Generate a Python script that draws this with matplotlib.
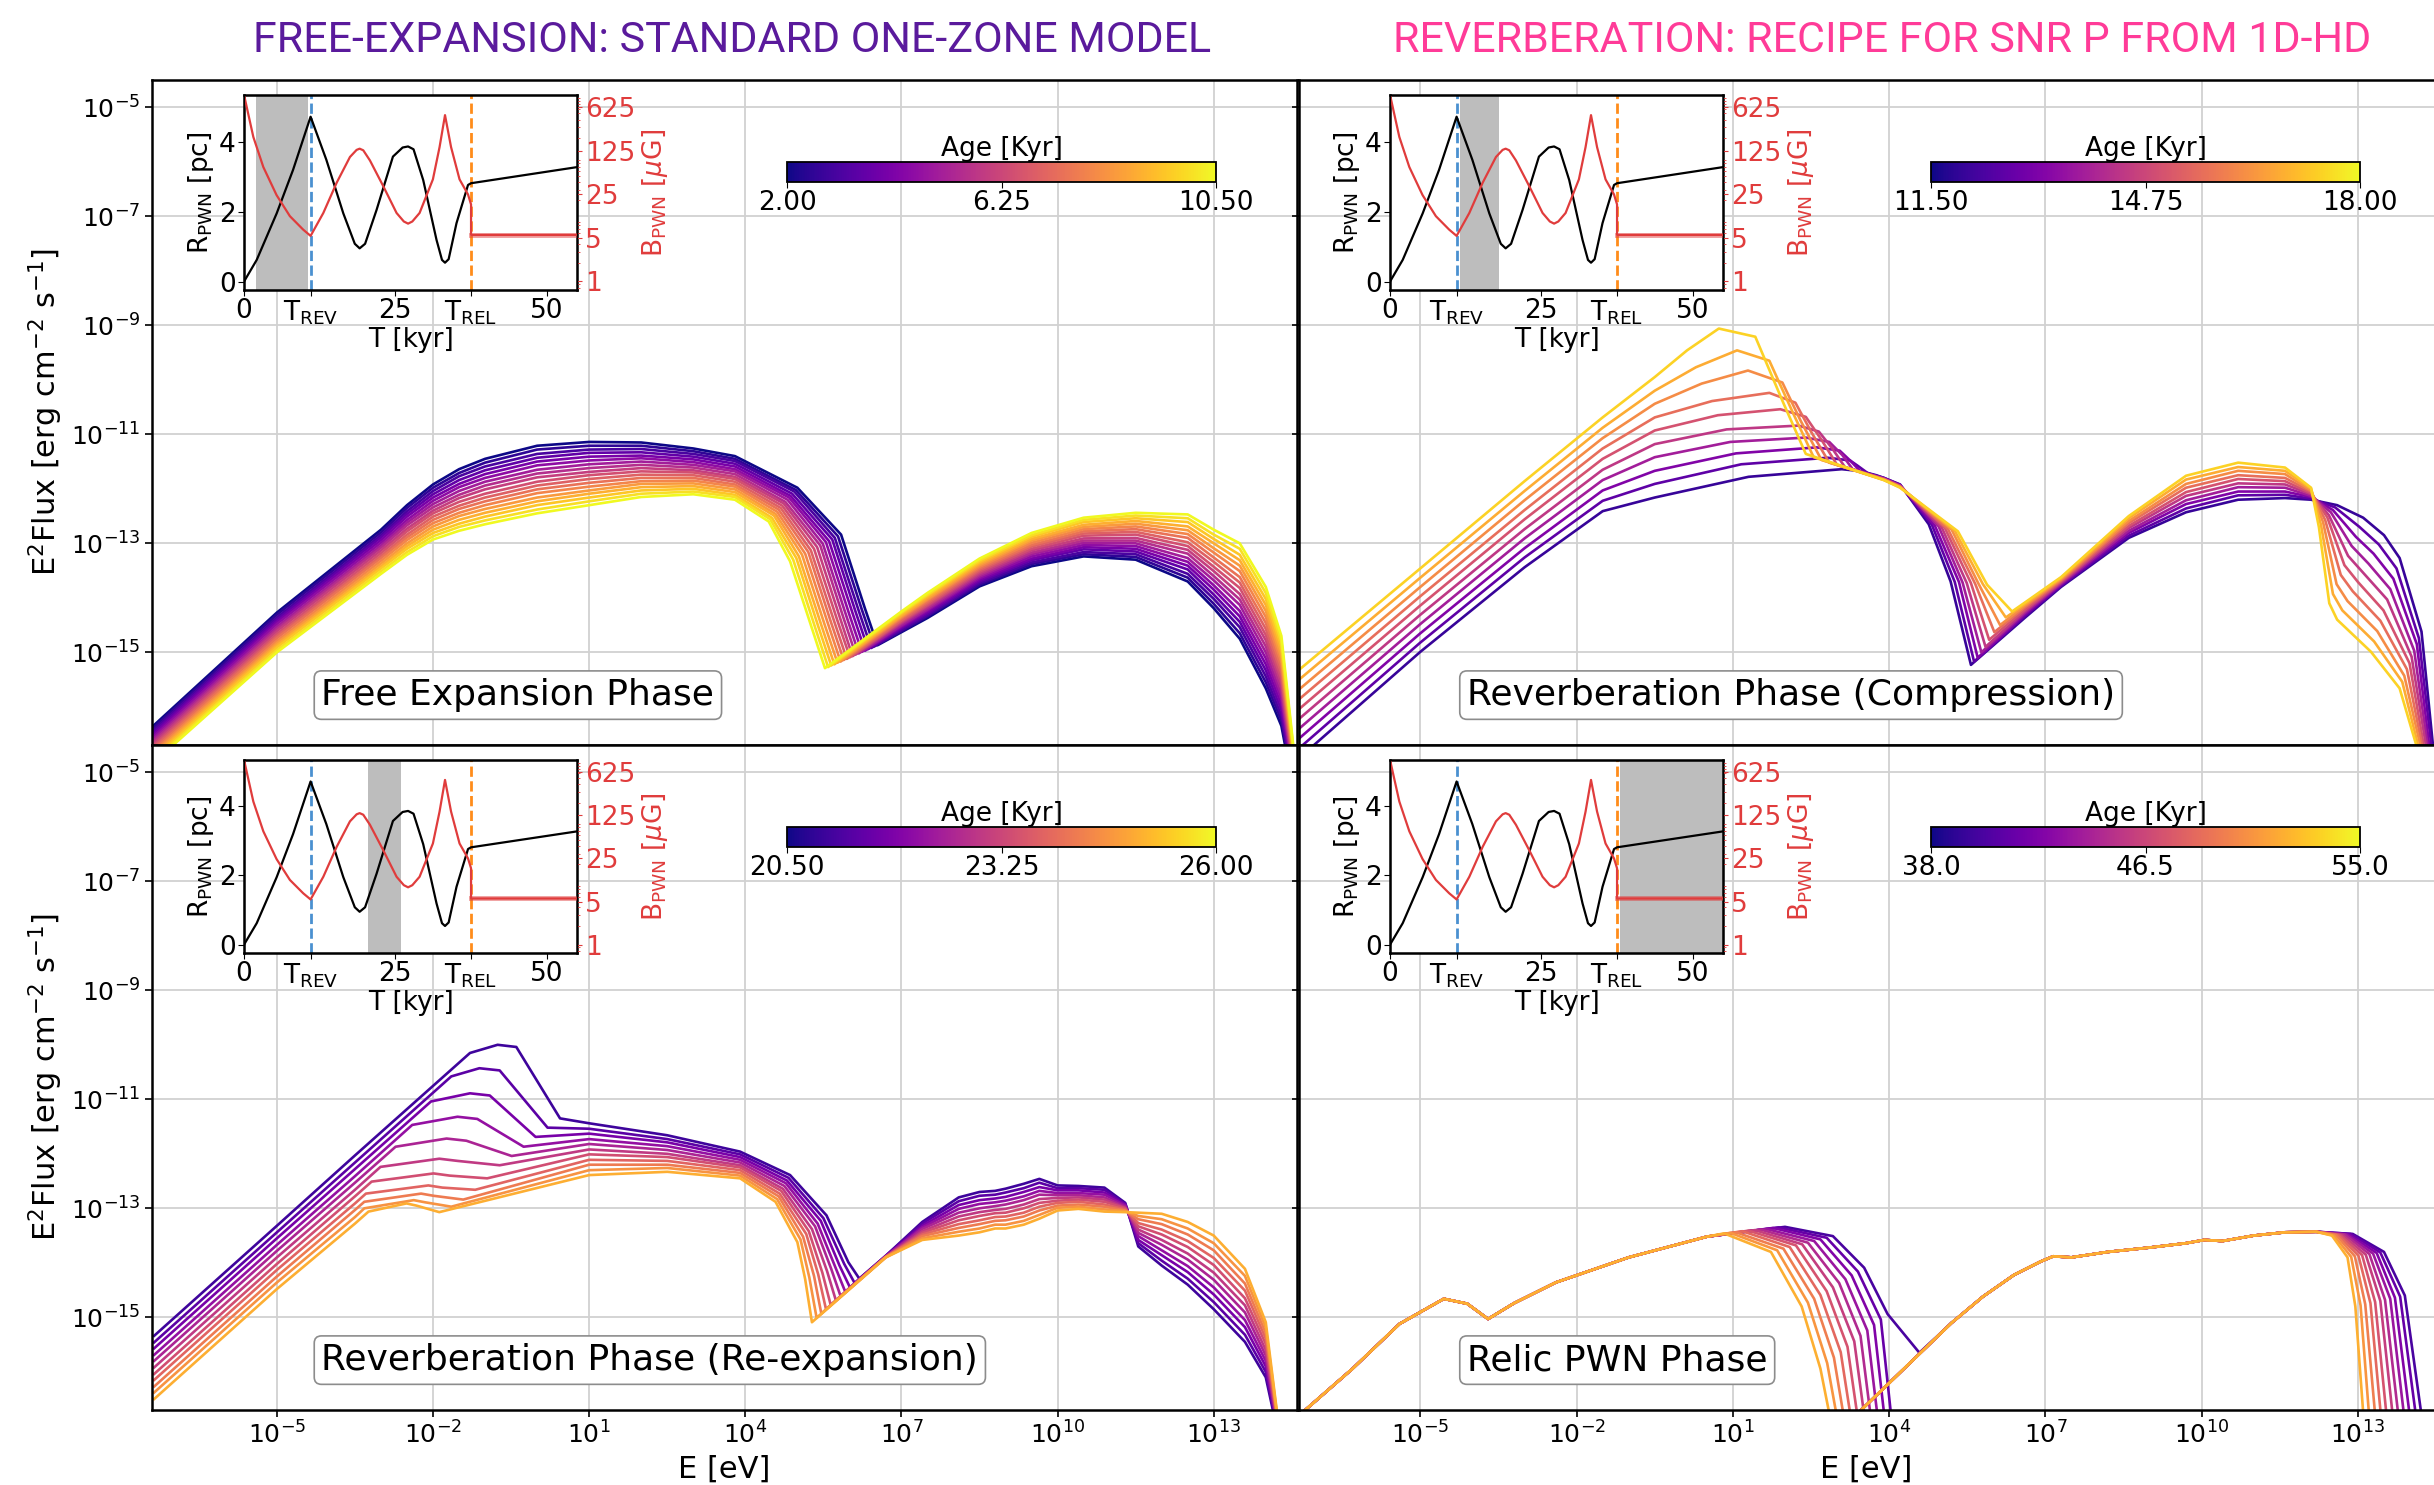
import numpy as np
import matplotlib
matplotlib.use("Agg")
import matplotlib.pyplot as plt
from matplotlib import ticker, colors, cm

# ---------------------------------------------------------------------------
# SED data: log10(E/eV) columns and log10(E^2 F) columns, one value per age.
# A column given as a single number is shared by every age in the panel.
# ---------------------------------------------------------------------------

# Free expansion phase
FE_AGE = [2.0, 2.5, 3.0, 3.5, 4.0, 4.5, 5.0, 5.5, 6.0, 6.5, 7.0, 7.5, 8.0, 8.5, 9.0, 9.5, 10.0, 10.5]
FE_LOGE = [
    -7.4, -5.0, -3.0, -2.5, -2.0, -1.5, -1.0, 0.0, 1.0, 2.0, 3.0, 3.8,
    [5.00, 4.97, 4.94, 4.90, 4.87, 4.84, 4.81, 4.77, 4.74, 4.71, 4.68, 4.64, 4.61, 4.58, 4.55, 4.51, 4.48, 4.45],
    [5.84, 5.78, 5.72, 5.67, 5.61, 5.55, 5.49, 5.44, 5.38, 5.32, 5.26, 5.21, 5.15, 5.09, 5.03, 4.98, 4.92, 4.86],
    [6.30, 6.24, 6.18, 6.12, 6.06, 6.00, 5.94, 5.88, 5.82, 5.76, 5.70, 5.64, 5.58, 5.52, 5.46, 5.40, 5.34, 5.28],
    [6.54, 6.48, 6.42, 6.36, 6.30, 6.24, 6.18, 6.12, 6.06, 6.01, 5.95, 5.89, 5.83, 5.77, 5.71, 5.65, 5.59, 5.53],
    7.0, 7.5, 8.5, 9.5, 10.5, 11.5, 12.5, 13.0, 13.5, 14.0, 14.3, 14.55,
]
FE_LOGF = [
    [-16.37, -16.41, -16.45, -16.49, -16.53, -16.57, -16.61, -16.65, -16.69, -16.73, -16.77, -16.81, -16.85, -16.89, -16.93, -16.97, -17.01, -17.05],
    [-14.27, -14.31, -14.36, -14.40, -14.44, -14.48, -14.53, -14.57, -14.61, -14.66, -14.70, -14.74, -14.79, -14.83, -14.87, -14.91, -14.96, -15.00],
    [-12.75, -12.80, -12.85, -12.89, -12.94, -12.99, -13.04, -13.08, -13.13, -13.18, -13.23, -13.27, -13.32, -13.37, -13.42, -13.46, -13.51, -13.56],
    [-12.30, -12.35, -12.41, -12.46, -12.51, -12.57, -12.62, -12.67, -12.73, -12.78, -12.84, -12.89, -12.94, -13.00, -13.05, -13.10, -13.16, -13.21],
    [-11.92, -11.98, -12.04, -12.10, -12.16, -12.22, -12.28, -12.34, -12.40, -12.45, -12.51, -12.57, -12.63, -12.69, -12.75, -12.81, -12.87, -12.93],
    [-11.64, -11.71, -11.77, -11.84, -11.91, -11.97, -12.04, -12.11, -12.17, -12.24, -12.31, -12.37, -12.44, -12.50, -12.57, -12.64, -12.70, -12.77],
    [-11.45, -11.52, -11.59, -11.66, -11.73, -11.80, -11.87, -11.94, -12.01, -12.09, -12.16, -12.23, -12.30, -12.37, -12.44, -12.51, -12.58, -12.65],
    [-11.21, -11.28, -11.36, -11.43, -11.50, -11.57, -11.65, -11.72, -11.79, -11.87, -11.94, -12.01, -12.08, -12.16, -12.23, -12.30, -12.38, -12.45],
    [-11.14, -11.21, -11.28, -11.34, -11.41, -11.48, -11.55, -11.62, -11.69, -11.75, -11.82, -11.89, -11.96, -12.03, -12.09, -12.16, -12.23, -12.30],
    [-11.15, -11.21, -11.27, -11.33, -11.39, -11.44, -11.50, -11.56, -11.62, -11.68, -11.74, -11.80, -11.86, -11.91, -11.97, -12.03, -12.09, -12.15],
    [-11.26, -11.31, -11.36, -11.41, -11.46, -11.51, -11.56, -11.61, -11.66, -11.70, -11.75, -11.80, -11.85, -11.90, -11.95, -12.00, -12.05, -12.10],
    [-11.40, -11.45, -11.49, -11.54, -11.59, -11.64, -11.68, -11.73, -11.78, -11.82, -11.87, -11.92, -11.96, -12.01, -12.06, -12.11, -12.15, -12.20],
    [-11.98, -12.02, -12.05, -12.09, -12.13, -12.16, -12.20, -12.24, -12.27, -12.31, -12.35, -12.38, -12.42, -12.46, -12.49, -12.53, -12.56, -12.60],
    [-12.84, -12.87, -12.90, -12.93, -12.96, -12.98, -13.01, -13.04, -13.07, -13.10, -13.13, -13.16, -13.19, -13.21, -13.24, -13.27, -13.30, -13.33],
    [-14.20, -14.22, -14.24, -14.26, -14.28, -14.31, -14.33, -14.35, -14.37, -14.39, -14.41, -14.43, -14.45, -14.48, -14.50, -14.52, -14.54, -14.56],
    [-14.87, -14.89, -14.92, -14.94, -14.97, -14.99, -15.02, -15.04, -15.07, -15.09, -15.12, -15.14, -15.17, -15.19, -15.22, -15.24, -15.27, -15.29],
    [-14.63, -14.61, -14.59, -14.56, -14.54, -14.52, -14.50, -14.47, -14.45, -14.43, -14.41, -14.38, -14.36, -14.34, -14.32, -14.29, -14.27, -14.25],
    [-14.37, -14.34, -14.32, -14.29, -14.26, -14.23, -14.21, -14.18, -14.15, -14.13, -14.10, -14.07, -14.04, -14.02, -13.99, -13.96, -13.94, -13.91],
    [-13.79, -13.76, -13.73, -13.70, -13.67, -13.64, -13.61, -13.58, -13.55, -13.52, -13.49, -13.46, -13.43, -13.40, -13.37, -13.34, -13.31, -13.28],
    [-13.42, -13.38, -13.35, -13.31, -13.28, -13.24, -13.20, -13.17, -13.13, -13.10, -13.06, -13.03, -12.99, -12.95, -12.92, -12.88, -12.85, -12.81],
    [-13.24, -13.20, -13.16, -13.11, -13.07, -13.03, -12.99, -12.95, -12.91, -12.86, -12.82, -12.78, -12.74, -12.70, -12.66, -12.61, -12.57, -12.53],
    [-13.30, -13.25, -13.20, -13.15, -13.10, -13.05, -13.00, -12.95, -12.90, -12.84, -12.79, -12.74, -12.69, -12.64, -12.59, -12.54, -12.49, -12.44],
    [-13.70, -13.63, -13.56, -13.48, -13.41, -13.34, -13.27, -13.19, -13.12, -13.05, -12.98, -12.90, -12.83, -12.76, -12.69, -12.61, -12.54, -12.47],
    [-14.19, -14.11, -14.02, -13.94, -13.85, -13.77, -13.68, -13.60, -13.51, -13.43, -13.34, -13.26, -13.17, -13.09, -13.00, -12.92, -12.84, -12.75],
    [-14.75, -14.65, -14.54, -14.44, -14.34, -14.24, -14.13, -14.03, -13.93, -13.82, -13.72, -13.62, -13.51, -13.41, -13.31, -13.21, -13.10, -13.00],
    [-15.66, -15.55, -15.44, -15.33, -15.22, -15.11, -15.00, -14.89, -14.78, -14.68, -14.57, -14.46, -14.35, -14.24, -14.13, -14.02, -13.91, -13.80],
    [-16.35, -16.25, -16.16, -16.06, -15.96, -15.86, -15.77, -15.67, -15.57, -15.48, -15.38, -15.28, -15.18, -15.09, -14.99, -14.89, -14.80, -14.70],
    [-17.60, -17.56, -17.52, -17.48, -17.44, -17.39, -17.35, -17.31, -17.27, -17.23, -17.19, -17.15, -17.11, -17.06, -17.02, -16.98, -16.94, -16.90],
]

# Reverberation, compression
CO_AGE = [12.0, 12.6, 13.2, 13.8, 14.4, 15.0, 15.6, 16.2, 16.8, 17.4]
CO_LOGE = [
    -7.34, -5.0, -3.0, -1.5, -0.5,
    [1.30, 1.16, 1.06, 0.95, 0.88, 0.71, 0.60, 0.40, 0.29, 0.12],
    [3.09, 2.82, 2.61, 2.40, 2.26, 1.91, 1.70, 1.29, 1.08, 0.73],
    [3.40, 3.25, 3.05, 2.85, 2.65, 2.40, 2.20, 1.95, 1.70, 1.43],
    [3.55, 3.40, 3.25, 3.10, 2.90, 2.70, 2.50, 2.30, 2.15, 1.98],
    [3.75, 3.60, 3.45, 3.30, 3.15, 3.00, 2.85, 2.70, 2.55, 2.40],
    3.9, 4.21,
    [4.76, 4.82, 4.88, 4.95, 5.01, 5.07, 5.13, 5.20, 5.26, 5.32],
    [5.18, 5.26, 5.34, 5.41, 5.49, 5.57, 5.65, 5.72, 5.80, 5.88],
    [5.57, 5.63, 5.70, 5.77, 5.85, 5.92, 6.02, 6.13, 6.24, 6.36],
    6.6, 7.3, 8.6, 9.7, 10.7, 11.6, 12.1,
    [12.60, 12.56, 12.52, 12.48, 12.44, 12.41, 12.37, 12.33, 12.29, 12.25],
    [13.10, 13.03, 12.96, 12.88, 12.81, 12.74, 12.67, 12.59, 12.52, 12.45],
    [13.50, 13.40, 13.30, 13.20, 13.10, 13.00, 12.90, 12.80, 12.70, 12.60],
    [13.80, 13.74, 13.68, 13.62, 13.56, 13.49, 13.43, 13.37, 13.31, 13.25],
    [14.22, 14.17, 14.13, 14.08, 14.03, 13.99, 13.94, 13.89, 13.85, 13.80],
    [14.45, 14.42, 14.38, 14.35, 14.32, 14.28, 14.25, 14.22, 14.18, 14.15],
]
CO_LOGF = [
    [-16.95, -16.77, -16.59, -16.41, -16.23, -16.05, -15.87, -15.69, -15.51, -15.33],
    [-14.99, -14.82, -14.65, -14.48, -14.31, -14.14, -13.97, -13.80, -13.63, -13.46],
    [-13.44, -13.26, -13.09, -12.91, -12.74, -12.56, -12.39, -12.21, -12.04, -11.86],
    [-12.41, -12.22, -12.03, -11.84, -11.65, -11.45, -11.26, -11.07, -10.88, -10.69],
    [-12.16, -11.91, -11.67, -11.42, -11.18, -10.93, -10.69, -10.44, -10.20, -9.95],
    [-11.78, -11.55, -11.35, -11.14, -10.91, -10.65, -10.39, -10.07, -9.77, -9.46],
    [-11.64, -11.43, -11.24, -11.06, -10.84, -10.54, -10.24, -9.83, -9.46, -9.06],
    [-11.67, -11.48, -11.30, -11.14, -10.95, -10.68, -10.42, -10.05, -9.65, -9.21],
    [-11.70, -11.58, -11.48, -11.38, -11.25, -11.10, -10.95, -10.75, -10.60, -10.45],
    [-11.75, -11.72, -11.68, -11.64, -11.60, -11.56, -11.52, -11.47, -11.42, -11.36],
    [-11.80, -11.80, -11.81, -11.81, -11.82, -11.82, -11.83, -11.83, -11.84, -11.84],
    [-11.92, -11.93, -11.93, -11.94, -11.95, -11.95, -11.96, -11.97, -11.97, -11.98],
    [-12.65, -12.66, -12.68, -12.69, -12.71, -12.72, -12.74, -12.75, -12.77, -12.78],
    [-13.70, -13.71, -13.71, -13.72, -13.73, -13.73, -13.74, -13.75, -13.75, -13.76],
    [-15.23, -15.17, -15.10, -15.00, -14.90, -14.77, -14.63, -14.50, -14.36, -14.25],
    [-14.37, -14.34, -14.31, -14.28, -14.25, -14.22, -14.18, -14.15, -14.12, -14.09],
    [-13.80, -13.78, -13.76, -13.74, -13.72, -13.70, -13.68, -13.66, -13.64, -13.62],
    [-12.90, -12.86, -12.81, -12.77, -12.72, -12.68, -12.63, -12.59, -12.54, -12.50],
    [-12.43, -12.36, -12.28, -12.21, -12.13, -12.06, -11.98, -11.91, -11.83, -11.76],
    [-12.20, -12.12, -12.05, -11.97, -11.90, -11.82, -11.75, -11.67, -11.60, -11.52],
    [-12.17, -12.11, -12.05, -11.98, -11.92, -11.86, -11.80, -11.73, -11.67, -11.61],
    [-12.20, -12.18, -12.15, -12.13, -12.10, -12.08, -12.05, -12.03, -12.00, -11.98],
    [-12.30, -12.34, -12.39, -12.43, -12.48, -12.52, -12.57, -12.61, -12.66, -12.70],
    [-12.53, -12.70, -12.88, -13.05, -13.23, -13.40, -13.58, -13.75, -13.93, -14.10],
    [-12.85, -13.02, -13.19, -13.37, -13.54, -13.71, -13.88, -14.06, -14.23, -14.40],
    [-13.27, -13.46, -13.65, -13.84, -14.03, -14.23, -14.42, -14.61, -14.80, -14.99],
    [-14.62, -14.74, -14.85, -14.97, -15.08, -15.20, -15.31, -15.43, -15.54, -15.66],
    -16.8,
]

# Reverberation, re-expansion
RE_AGE = [21.0, 21.4, 21.8, 22.2, 22.6, 23.0, 23.4, 23.8, 24.2, 24.6, 25.0]
RE_LOGE = [
    -7.36, -5.0, -3.5,
    [-1.29, -1.65, -2.04, -2.40, -2.72, -3.01, -3.18, -3.29, -3.32, -3.32, -3.24],
    [-0.76, -1.11, -1.29, -1.53, -1.74, -1.88, -1.99, -2.09, -2.23, -2.37, -2.51],
    [-0.40, -0.72, -0.91, -1.15, -1.36, -1.53, -1.68, -1.82, -1.99, -2.15, -2.32],
    [0.44, 0.20, -0.03, -0.26, -0.49, -0.72, -0.96, -1.19, -1.42, -1.65, -1.88],
    1.0, 2.5, 3.9,
    [4.86, 4.83, 4.80, 4.78, 4.75, 4.72, 4.69, 4.66, 4.64, 4.61, 4.58],
    [5.56, 5.50, 5.45, 5.39, 5.34, 5.28, 5.22, 5.17, 5.11, 5.06, 5.00],
    [5.98, 5.90, 5.81, 5.73, 5.65, 5.57, 5.48, 5.40, 5.32, 5.23, 5.15],
    [6.19, 6.10, 6.01, 5.92, 5.83, 5.74, 5.64, 5.55, 5.46, 5.37, 5.28],
    6.7, 7.4, 8.1, 8.5, 8.8, 9.0, 9.35, 9.65, 10.0, 10.4, 10.9, 11.3, 11.55, 12.0, 12.5, 13.0, 13.6, 14.0, 14.25,
]
RE_LOGF = [
    [-15.34, -15.46, -15.57, -15.69, -15.80, -15.92, -16.04, -16.15, -16.27, -16.38, -16.50],
    [-13.32, -13.44, -13.55, -13.67, -13.78, -13.90, -14.02, -14.13, -14.25, -14.36, -14.48],
    [-12.03, -12.16, -12.28, -12.41, -12.53, -12.66, -12.78, -12.91, -13.03, -13.16, -13.28],
    [-10.15, -10.58, -11.04, -11.47, -11.87, -12.24, -12.51, -12.73, -12.88, -13.00, -13.06],
    [-10.00, -10.43, -10.89, -11.32, -11.72, -12.09, -12.36, -12.58, -12.73, -12.85, -12.91],
    [-10.04, -10.47, -10.93, -11.36, -11.76, -12.13, -12.40, -12.62, -12.77, -12.89, -12.95],
    [-11.35, -11.52, -11.69, -11.87, -12.04, -12.21, -12.45, -12.66, -12.84, -12.97, -13.07],
    [-11.44, -11.54, -11.63, -11.73, -11.82, -11.92, -12.01, -12.11, -12.20, -12.30, -12.39],
    [-11.66, -11.73, -11.79, -11.86, -11.93, -12.00, -12.06, -12.13, -12.20, -12.26, -12.33],
    [-11.96, -12.01, -12.06, -12.11, -12.16, -12.21, -12.25, -12.30, -12.35, -12.40, -12.45],
    [-12.39, -12.44, -12.49, -12.54, -12.59, -12.64, -12.68, -12.73, -12.78, -12.83, -12.88],
    [-13.13, -13.18, -13.23, -13.28, -13.33, -13.38, -13.42, -13.47, -13.52, -13.57, -13.62],
    [-13.99, -14.02, -14.05, -14.08, -14.11, -14.15, -14.18, -14.21, -14.24, -14.27, -14.30],
    [-14.29, -14.37, -14.45, -14.53, -14.61, -14.69, -14.77, -14.85, -14.93, -15.01, -15.09],
    [-13.87, -13.87, -13.88, -13.88, -13.88, -13.89, -13.89, -13.89, -13.89, -13.90, -13.90],
    [-13.25, -13.28, -13.32, -13.35, -13.38, -13.42, -13.45, -13.48, -13.51, -13.55, -13.58],
    [-12.80, -12.87, -12.94, -13.01, -13.08, -13.15, -13.22, -13.29, -13.36, -13.43, -13.50],
    [-12.70, -12.77, -12.85, -12.92, -13.00, -13.07, -13.14, -13.22, -13.29, -13.37, -13.44],
    [-12.68, -12.75, -12.82, -12.89, -12.96, -13.03, -13.09, -13.16, -13.23, -13.30, -13.37],
    [-12.64, -12.71, -12.79, -12.86, -12.93, -13.01, -13.08, -13.15, -13.22, -13.30, -13.37],
    [-12.55, -12.63, -12.70, -12.78, -12.85, -12.93, -13.00, -13.08, -13.15, -13.23, -13.30],
    [-12.46, -12.53, -12.61, -12.68, -12.75, -12.83, -12.90, -12.97, -13.04, -13.12, -13.19],
    [-12.58, -12.63, -12.67, -12.72, -12.76, -12.81, -12.86, -12.90, -12.95, -12.99, -13.04],
    [-12.59, -12.63, -12.67, -12.72, -12.76, -12.80, -12.84, -12.88, -12.93, -12.97, -13.01],
    [-12.62, -12.66, -12.71, -12.75, -12.80, -12.84, -12.88, -12.93, -12.97, -13.02, -13.06],
    [-12.90, -12.92, -12.93, -12.95, -12.97, -12.99, -13.00, -13.02, -13.04, -13.05, -13.07],
    [-13.70, -13.64, -13.58, -13.51, -13.45, -13.39, -13.33, -13.27, -13.20, -13.14, -13.08],
    [-14.05, -13.96, -13.86, -13.77, -13.67, -13.58, -13.48, -13.39, -13.29, -13.20, -13.10],
    [-14.40, -14.29, -14.17, -14.06, -13.94, -13.83, -13.71, -13.60, -13.48, -13.37, -13.25],
    [-14.85, -14.72, -14.58, -14.45, -14.31, -14.18, -14.04, -13.91, -13.77, -13.64, -13.50],
    [-15.45, -15.32, -15.18, -15.05, -14.91, -14.78, -14.65, -14.51, -14.38, -14.24, -14.11],
    [-16.10, -16.00, -15.90, -15.80, -15.70, -15.60, -15.49, -15.39, -15.29, -15.19, -15.09],
    [-17.20, -17.18, -17.16, -17.14, -17.12, -17.10, -17.08, -17.06, -17.04, -17.02, -17.00],
]

# Relic PWN
RL_AGE = [40.0, 41.2, 42.4, 43.6, 44.8, 46.0, 47.2, 48.4, 49.6, 50.8, 52.0]
RL_LOGE = [
    -7.33, -6.3, -5.4, -4.55, -4.1, -3.7, -3.2, -2.4, -1.0, 0.5,
    [2.00, 1.88, 1.77, 1.65, 1.53, 1.42, 1.30, 1.18, 1.06, 0.95, 0.83],
    [2.92, 2.80, 2.68, 2.56, 2.44, 2.33, 2.21, 2.09, 1.97, 1.85, 1.73],
    [3.52, 3.40, 3.28, 3.16, 3.04, 2.92, 2.80, 2.68, 2.56, 2.44, 2.32],
    [3.97, 3.84, 3.71, 3.58, 3.45, 3.33, 3.20, 3.07, 2.94, 2.81, 2.68],
    [4.58, 4.06, 3.93, 3.80, 3.67, 3.55, 3.42, 3.29, 3.16, 3.03, 2.90],
    [4.58, 3.30, 3.30, 3.30, 3.30, 3.30, 3.30, 3.30, 3.30, 3.30, 3.30],
    5.2, 5.8, 6.4, 6.9, 7.15, 7.5, 8.2, 9.0, 9.7, 10.05, 10.4, 11.0, 11.6, 12.2,
    [12.90, 12.86, 12.82, 12.78, 12.74, 12.70, 12.66, 12.62, 12.58, 12.54, 12.50],
    [13.50, 13.43, 13.36, 13.29, 13.22, 13.15, 13.08, 13.01, 12.94, 12.87, 12.80],
    [13.90, 13.81, 13.71, 13.62, 13.52, 13.43, 13.33, 13.24, 13.14, 13.05, 12.95],
    [14.25, 14.14, 14.02, 13.91, 13.80, 13.69, 13.57, 13.46, 13.35, 13.23, 13.12],
]
RL_LOGF = [
    -16.80, -15.94, -15.12, -14.66, -14.75, -15.03, -14.74, -14.36, -13.90, -13.52,
    [-13.34, -13.35, -13.36, -13.38, -13.39, -13.40, -13.41, -13.42, -13.44, -13.45, -13.46],
    [-13.51, -13.54, -13.57, -13.60, -13.63, -13.66, -13.68, -13.71, -13.74, -13.77, -13.80],
    [-14.09, -14.16, -14.23, -14.30, -14.37, -14.45, -14.52, -14.59, -14.66, -14.73, -14.80],
    [-14.94, -15.04, -15.14, -15.24, -15.34, -15.44, -15.54, -15.64, -15.74, -15.84, -15.94],
    [-15.65, -17.0, -17.0, -17.0, -17.0, -17.0, -17.0, -17.0, -17.0, -17.0, -17.0],
    [-15.65, -16.85, -16.85, -16.85, -16.85, -16.85, -16.85, -16.85, -16.85, -16.85, -16.85],
    -15.10, -14.62, -14.22, -13.98, -13.88, -13.90, -13.80, -13.72, -13.64, -13.58, -13.60, -13.50, -13.44, -13.43,
    [-13.47, -13.47, -13.48, -13.48, -13.48, -13.49, -13.49, -13.49, -13.49, -13.50, -13.50],
    [-13.80, -13.81, -13.82, -13.83, -13.84, -13.85, -13.86, -13.87, -13.88, -13.89, -13.90],
    [-14.60, -14.62, -14.64, -14.66, -14.68, -14.70, -14.72, -14.74, -14.76, -14.78, -14.80],
    -17.0,
]

# PWN radius and magnetic field history shown in the insets
T_REV = 11.1
T_REL = 37.5
INSET_T_R = [0.0, 2.1, 5.4, 8.1, 11.0, 13.6, 16.4, 18.3, 19.1, 20.0, 21.9, 24.6, 26.2, 27.1,
             28.0, 29.6, 31.8, 32.7, 33.2, 33.8, 35.1, 37.0, 37.5, 55.0]
INSET_R = [0.0, 0.62, 1.95, 3.19, 4.71, 3.48, 1.95, 1.08, 0.95, 1.08, 2.05, 3.57, 3.83, 3.86,
           3.78, 2.90, 1.19, 0.62, 0.54, 0.64, 1.67, 2.76, 2.81, 3.27]
INSET_T_B = [0.0, 0.44, 1.54, 3.19, 5.38, 7.58, 9.78, 11.0, 13.1, 15.3, 17.5, 18.6, 19.1, 19.7,
             20.8, 23.0, 25.2, 26.4, 27.1, 27.8, 29.0, 31.2, 32.3, 33.2, 34.2, 35.6, 37.0, 37.5,
             37.5, 55.0]
INSET_B = [1000, 640, 210, 69, 24.4, 11.2, 6.8, 5.4, 12.6, 38.5, 100, 130, 136, 128,
           88, 34, 12.6, 9.2, 8.5, 9.2, 12.6, 43.7, 144, 470, 144, 43.7, 25, 17.3,
           5.6, 5.6]

RED = "#e03c3c"
W, H = 2434, 1485


def frac(x0, y0, x1, y1):
    """Pixel box -> figure fraction [left, bottom, width, height]."""
    return [x0 / W, 1 - y1 / H, (x1 - x0) / W, (y1 - y0) / H]


def draw_seds(ax, loge, logf, ages, vmin, vmax):
    norm = colors.Normalize(vmin, vmax)
    for k, age in enumerate(ages):
        e = [c[k] if isinstance(c, list) else c for c in loge]
        f = [c[k] if isinstance(c, list) else c for c in logf]
        ax.plot(10.0 ** np.array(e), 10.0 ** np.array(f),
                color=plt.cm.plasma(norm(age)), lw=1.9)


def style_main(ax, xlim, left, bottom, label):
    ax.set_xscale("log")
    ax.set_yscale("log")
    ax.set_xlim(10 ** xlim[0], 10 ** xlim[1])
    ax.set_ylim(10 ** -16.7, 10 ** -4.5)
    ax.xaxis.set_major_locator(ticker.FixedLocator([1e-5, 1e-2, 1e1, 1e4, 1e7, 1e10, 1e13]))
    ax.yaxis.set_major_locator(ticker.FixedLocator([1e-15, 1e-13, 1e-11, 1e-9, 1e-7, 1e-5]))
    ax.xaxis.set_minor_locator(ticker.NullLocator())
    ax.yaxis.set_minor_locator(ticker.NullLocator())
    ax.xaxis.set_major_formatter(ticker.LogFormatterMathtext())
    ax.yaxis.set_major_formatter(ticker.LogFormatterMathtext())
    ax.grid(True, color="0.82", lw=1.3)
    ax.tick_params(labelsize=18, labelleft=left, labelbottom=bottom, length=5, width=1.2)
    for s in ax.spines.values():
        s.set_linewidth(1.8)
    if not left:
        ax.spines["right"].set_visible(False)
    if left:
        ax.set_ylabel(r"E$^2$Flux [erg cm$^{-2}$ s$^{-1}$]", fontsize=22)
    if bottom:
        ax.set_xlabel("E [eV]", fontsize=22)
    ax.text(0.148, 0.075, label, transform=ax.transAxes, fontsize=26,
            ha="left", va="center",
            bbox=dict(boxstyle="round,pad=0.2", fc="white", ec="0.55", lw=1.2))


def draw_inset(rect, span):
    ax = fig.add_axes(rect)
    ax.axvspan(span[0], span[1], color="#bdbdbd", lw=0, zorder=0)
    ax.plot(INSET_T_R, INSET_R, color="k", lw=1.6, zorder=3)
    ax.axvline(T_REV, color="#4a90d0", ls="--", lw=2.0, zorder=2)
    ax.axvline(T_REL, color="#ff8c1a", ls="--", lw=2.0, zorder=2)
    ax.set_xlim(0, 55)
    ax.set_ylim(-0.24, 5.33)
    ax.set_xticks([0, T_REV, 25, T_REL, 50])
    ax.set_xticklabels(["0", r"T$_{\rm REV}$", "25", r"T$_{\rm REL}$", "50"])
    ax.set_yticks([0, 2, 4])
    ax.tick_params(labelsize=19, length=4, pad=2)
    ax.set_xlabel("T [kyr]", fontsize=19, labelpad=0)
    ax.set_ylabel(r"R$_{\rm PWN}$ [pc]", fontsize=19, labelpad=2)
    for s in ax.spines.values():
        s.set_linewidth(1.8)

    bx = ax.twinx()
    bx.set_yscale("log")
    bx.plot(INSET_T_B, INSET_B, color=RED, lw=1.6)
    bx.plot(INSET_T_B[-2:], INSET_B[-2:], color=RED, lw=3.5, alpha=0.5)
    bx.set_ylim(0.73, 990)
    bx.set_yticks([1, 5, 25, 125, 625])
    bx.set_yticklabels(["1", "5", "25", "125", "625"])
    bx.tick_params(axis="y", which="both", colors=RED, labelsize=19, pad=2)
    bx.set_ylabel(r"B$_{\rm PWN}$ [$\mu$G]", color=RED, fontsize=19, labelpad=4)


def draw_cbar(rect, vmin, vmax, fmt):
    cax = fig.add_axes(rect)
    sm = cm.ScalarMappable(norm=colors.Normalize(vmin, vmax), cmap="plasma")
    cb = fig.colorbar(sm, cax=cax, orientation="horizontal")
    ticks = [vmin, (vmin + vmax) / 2, vmax]
    cb.set_ticks(ticks)
    cb.set_ticklabels([fmt.format(t) for t in ticks])
    cb.outline.set_linewidth(1.3)
    cax.tick_params(labelsize=19, length=4, pad=2)
    cax.set_title("Age [Kyr]", fontsize=19, pad=3)


fig = plt.figure(figsize=(W / 100, H / 100), dpi=100)

ax_fe = fig.add_axes(frac(152, 80, 1297, 745))
ax_co = fig.add_axes(frac(1299, 80, 2434, 745))
ax_re = fig.add_axes(frac(152, 745, 1297, 1410))
ax_rl = fig.add_axes(frac(1299, 745, 2434, 1410))

draw_seds(ax_fe, FE_LOGE, FE_LOGF, FE_AGE, 2.0, 10.5)
draw_seds(ax_co, CO_LOGE, CO_LOGF, CO_AGE, 11.5, 18.0)
draw_seds(ax_re, RE_LOGE, RE_LOGF, RE_AGE, 20.5, 26.0)
draw_seds(ax_rl, RL_LOGE, RL_LOGF, RL_AGE, 38.0, 55.0)

style_main(ax_fe, (-7.4, 14.6), True, False, "Free Expansion Phase")
style_main(ax_co, (-7.33, 14.46), False, False, "Reverberation Phase (Compression)")
style_main(ax_re, (-7.4, 14.6), True, True, "Reverberation Phase (Re-expansion)")
style_main(ax_rl, (-7.33, 14.46), False, True, "Relic PWN Phase")

draw_inset(frac(244, 95, 577, 290), (2.0, 10.5))
draw_inset(frac(1390, 95, 1723, 290), (11.5, 18.0))
draw_inset(frac(244, 760, 577, 953), (20.5, 26.0))
draw_inset(frac(1390, 760, 1723, 953), (38.0, 55.0))

draw_cbar(frac(787, 162, 1216, 182), 2.0, 10.5, "{:.2f}")
draw_cbar(frac(1931, 162, 2360, 182), 11.5, 18.0, "{:.2f}")
draw_cbar(frac(787, 827, 1216, 847), 20.5, 26.0, "{:.2f}")
draw_cbar(frac(1931, 827, 2360, 847), 38.0, 55.0, "{:.1f}")

title_font = ["Roboto", "DejaVu Sans"]
fig.text(732 / W, 1 - 40 / H, "FREE-EXPANSION: STANDARD ONE-ZONE MODEL",
         color="#5a1a9c", fontsize=31, family=title_font, ha="center", va="center")
fig.text(1882 / W, 1 - 40 / H, "REVERBERATION: RECIPE FOR SNR P FROM 1D-HD",
         color="#ff3b98", fontsize=31, family=title_font, ha="center", va="center")

fig.savefig("out.png", dpi=100, facecolor="white")
